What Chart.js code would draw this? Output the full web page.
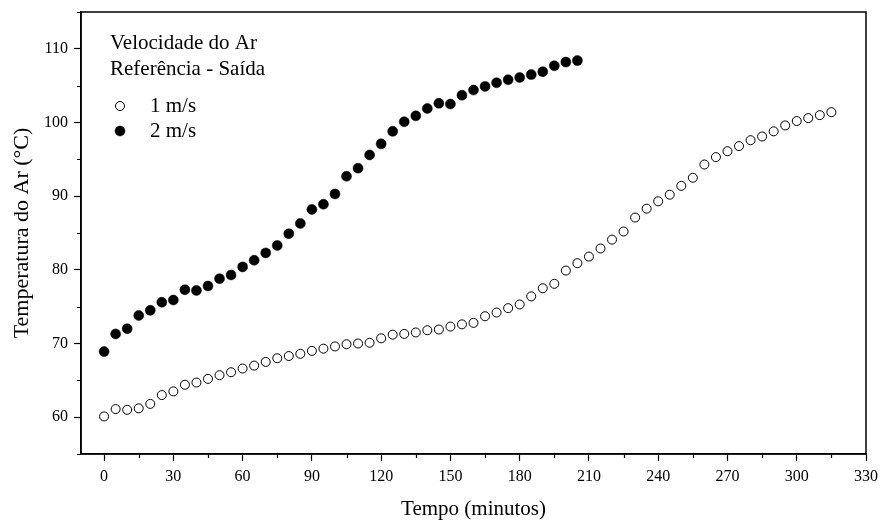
<!DOCTYPE html>
<html>
<head>
<meta charset="utf-8">
<script src="https://cdn.jsdelivr.net/npm/chart.js@4.4.1/dist/chart.umd.min.js"></script>
<style>
  html, body { margin: 0; padding: 0; background: #ffffff; }
  canvas { display: block; }
</style>
</head>
<body>
<canvas id="chart" width="881" height="522"></canvas>
<script>
// Air temperature (reference - outlet) for two air velocities, sampled every 5 minutes
const minutes1 = [0, 5, 10, 15, 20, 25, 30, 35, 40, 45, 50, 55, 60, 65, 70, 75, 80, 85, 90, 95,
  100, 105, 110, 115, 120, 125, 130, 135, 140, 145, 150, 155, 160, 165, 170, 175, 180, 185, 190, 195,
  200, 205, 210, 215, 220, 225, 230, 235, 240, 245, 250, 255, 260, 265, 270, 275, 280, 285, 290, 295,
  300, 305, 310, 315];
const temp1 = [60.1, 61.1, 61.0, 61.2, 61.8, 63.0, 63.5, 64.4, 64.7, 65.2, 65.7, 66.1, 66.6, 67.0, 67.5, 68.0, 68.3, 68.6, 69.0, 69.3,
  69.6, 69.9, 70.0, 70.1, 70.7, 71.2, 71.3, 71.5, 71.8, 71.9, 72.3, 72.6, 72.8, 73.7, 74.2, 74.8, 75.3, 76.4, 77.5, 78.1,
  79.9, 80.9, 81.8, 82.9, 84.1, 85.2, 87.1, 88.3, 89.3, 90.2, 91.4, 92.5, 94.3, 95.3, 96.1, 96.8, 97.6, 98.1, 98.8, 99.6,
  100.2, 100.6, 101.0, 101.4];

const minutes2 = [0, 5, 10, 15, 20, 25, 30, 35, 40, 45, 50, 55, 60, 65, 70, 75, 80, 85, 90, 95,
  100, 105, 110, 115, 120, 125, 130, 135, 140, 145, 150, 155, 160, 165, 170, 175, 180, 185, 190, 195,
  200, 205];
const temp2 = [68.9, 71.3, 72.0, 73.8, 74.5, 75.6, 75.9, 77.3, 77.2, 77.8, 78.8, 79.3, 80.4, 81.3, 82.3, 83.3, 84.9, 86.3, 88.2, 88.9,
  90.3, 92.7, 93.8, 95.6, 97.1, 98.8, 100.1, 100.9, 101.9, 102.6, 102.5, 103.7, 104.4, 104.9, 105.4, 105.8, 106.1, 106.5, 106.9, 107.7,
  108.2, 108.4];

const seriesNames = ['1 m/s', '2 m/s'];
const legendTitle = ['Velocidade do Ar', 'Referência - Saída'];

const xMajorTicks = [0, 30, 60, 90, 120, 150, 180, 210, 240, 270, 300, 330];
const xMinorTicks = [15, 45, 75, 105, 135, 165, 195, 225, 255, 285, 315];
const yMajorTicks = [60, 70, 80, 90, 100, 110];
const yMinorTicks = [55, 65, 75, 85, 95, 105, 115];

const FONT = '"Liberation Serif", "Times New Roman", serif';

const toPoints = (xs, ys) => xs.map((x, i) => ({ x: x, y: ys[i] }));

// Box around the plot, minor ticks and the in-plot legend
const framePlugin = {
  id: 'frame',
  afterDraw(chart) {
    const { ctx, chartArea: a, scales: { x, y } } = chart;
    ctx.save();
    ctx.strokeStyle = '#000';
    ctx.lineWidth = 1.5;
    ctx.strokeRect(a.left, a.top, a.right - a.left, a.bottom - a.top);

    ctx.lineWidth = 1.2;
    ctx.beginPath();
    xMinorTicks.forEach(v => {
      const px = Math.round(x.getPixelForValue(v)) + 0.5;
      ctx.moveTo(px, a.bottom);
      ctx.lineTo(px, a.bottom + 4);
    });
    yMinorTicks.forEach(v => {
      const py = Math.round(y.getPixelForValue(v)) + 0.5;
      ctx.moveTo(a.left, py);
      ctx.lineTo(a.left - 4, py);
    });
    ctx.stroke();

    // legend
    ctx.fillStyle = '#000';
    ctx.font = '21px ' + FONT;
    ctx.textBaseline = 'alphabetic';
    ctx.textAlign = 'left';
    ctx.fillText(legendTitle[0], 110, 48.5);
    ctx.fillText(legendTitle[1], 110, 74.5);

    const rows = [106, 131];
    chart.data.datasets.forEach((ds, i) => {
      const cy = rows[i];
      ctx.beginPath();
      ctx.arc(120, cy, ds.pointRadius, 0, Math.PI * 2);
      ctx.fillStyle = ds.pointBackgroundColor;
      ctx.fill();
      ctx.lineWidth = ds.pointBorderWidth;
      ctx.strokeStyle = ds.pointBorderColor;
      ctx.stroke();
      ctx.fillStyle = '#000';
      ctx.fillText(ds.label, 150, cy + 6);
    });
    ctx.restore();
  }
};

// keep the plot area exactly where the axes put it
const noEdgePadding = s => { s.paddingTop = 0; s.paddingBottom = 0; s.paddingLeft = 0; s.paddingRight = 0; };

new Chart(document.getElementById('chart'), {
  type: 'scatter',
  data: {
    datasets: [
      {
        label: seriesNames[0],
        data: toPoints(minutes1, temp1),
        pointRadius: 4.5,
        pointBackgroundColor: '#ffffff',
        pointBorderColor: '#000000',
        pointBorderWidth: 1,
        showLine: false
      },
      {
        label: seriesNames[1],
        data: toPoints(minutes2, temp2),
        pointRadius: 5,
        pointBackgroundColor: '#000000',
        pointBorderColor: '#000000',
        pointBorderWidth: 0.5,
        showLine: false
      }
    ]
  },
  options: {
    responsive: false,
    animation: false,
    layout: { padding: { top: 12, right: 15, left: 0, bottom: 0 } },
    plugins: {
      legend: { display: false },
      tooltip: { enabled: false }
    },
    scales: {
      x: {
        type: 'linear',
        min: -10,
        max: 330,
        afterBuildTicks: s => { s.ticks = xMajorTicks.map(v => ({ value: v })); },
        afterFit: s => { s.height = 68; noEdgePadding(s); },
        grid: { display: true, drawOnChartArea: false, drawTicks: true, tickLength: 7, tickColor: '#000', tickWidth: 1.2 },
        border: { display: true, color: '#000', width: 1.5 },
        ticks: { color: '#000', font: { family: FONT, size: 16 }, padding: 6, maxRotation: 0, autoSkip: false },
        title: { display: true, text: 'Tempo (minutos)', color: '#000', font: { family: FONT, size: 21, lineHeight: 1.15 }, padding: { top: 0, bottom: 0 } }
      },
      y: {
        type: 'linear',
        min: 55,
        max: 115,
        afterBuildTicks: s => { s.ticks = yMajorTicks.map(v => ({ value: v })); },
        afterFit: s => { s.width = 81; noEdgePadding(s); },
        grid: { display: true, drawOnChartArea: false, drawTicks: true, tickLength: 7, tickColor: '#000', tickWidth: 1.2 },
        border: { display: true, color: '#000', width: 1.5 },
        ticks: { color: '#000', font: { family: FONT, size: 16 }, padding: 6, autoSkip: false },
        title: { display: true, text: 'Temperatura do Ar (°C)', color: '#000', font: { family: FONT, size: 22 }, padding: { top: 9, bottom: 0 } }
      }
    }
  },
  plugins: [framePlugin]
});
</script>
</body>
</html>
